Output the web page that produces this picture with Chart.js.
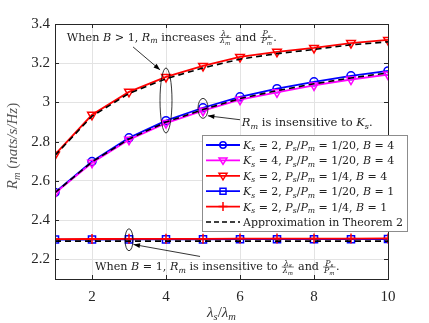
<!DOCTYPE html>
<html>
<head>
<meta charset="utf-8">
<script src="https://cdn.jsdelivr.net/npm/chart.js@4"></script>
<style>
html, body { margin: 0; padding: 0; background: #fff; }
#wrap { width: 429px; height: 323px; position: relative; }
</style>
</head>
<body>
<div id="wrap"><canvas id="rate_chart"></canvas></div>
<script>
var lambda_ratio = [1, 2, 3, 4, 5, 6, 7, 8, 9, 10];
var rate_ks2_p20_b4 = [2.541, 2.699, 2.820, 2.907, 2.973, 3.029, 3.070, 3.105, 3.136, 3.161];
var rate_ks4_p20_b4 = [2.538, 2.693, 2.810, 2.895, 2.958, 3.014, 3.052, 3.087, 3.117, 3.142];
var rate_ks2_p4_b4 = [2.734, 2.937, 3.054, 3.130, 3.186, 3.232, 3.258, 3.278, 3.303, 3.319];
var rate_ks2_p20_b1 = [2.301, 2.301, 2.302, 2.302, 2.302, 2.303, 2.303, 2.303, 2.303, 2.304];
var rate_ks2_p4_b1 = [2.303, 2.304, 2.305, 2.305, 2.305, 2.306, 2.306, 2.306, 2.306, 2.307];
var approx_p20_b4 = [2.540, 2.697, 2.814, 2.900, 2.964, 3.020, 3.060, 3.095, 3.125, 3.151];
var approx_p4_b4 = [2.730, 2.930, 3.046, 3.121, 3.176, 3.221, 3.249, 3.270, 3.294, 3.309];
var approx_b1 = [2.293, 2.293, 2.293, 2.293, 2.293, 2.293, 2.293, 2.293, 2.293, 2.293];
var x_ticks = [2, 4, 6, 8, 10];
var y_ticks = [2.2, 2.4, 2.6, 2.8, 3, 3.2, 3.4];

var SERIF = '"Liberation Serif", "DejaVu Serif", serif';
var WIDE_SERIF = '"DejaVu Serif", serif';

function pts(arr) {
    return lambda_ratio.map(function (x, i) { return { x: x, y: arr[i] }; });
}

// ---- rich text (italic / subscript / small fractions) ----
var rich_family = WIDE_SERIF;
function seg_font(s, size) {
    var sz = s.sub ? size * 0.7 : size;
    return (s.i ? 'italic ' : '') + sz + 'px ' + rich_family;
}
function rich_width(ctx, segs, size) {
    var w = 0;
    segs.forEach(function (s) { w += seg_width(ctx, s, size); });
    return w;
}
function seg_width(ctx, s, size) {
    if (s.frac) {
        return Math.max(rich_width(ctx, s.frac[0], size * 0.7), rich_width(ctx, s.frac[1], size * 0.7)) + 3;
    }
    ctx.font = seg_font(s, size);
    return ctx.measureText(s.t).width;
}
function draw_rich(ctx, segs, x, y, size) {
    ctx.textBaseline = 'alphabetic';
    ctx.textAlign = 'left';
    segs.forEach(function (s) {
        var w = seg_width(ctx, s, size);
        if (s.frac) {
            var fs = size * 0.7;
            var bar = y - size * 0.3;
            var wn = rich_width(ctx, s.frac[0], fs), wd = rich_width(ctx, s.frac[1], fs);
            draw_rich(ctx, s.frac[0], x + (w - wn) / 2, bar - 1.5, fs);
            draw_rich(ctx, s.frac[1], x + (w - wd) / 2, bar + fs * 0.75, fs);
            ctx.beginPath();
            ctx.moveTo(x + 0.5, bar); ctx.lineTo(x + w - 0.5, bar);
            ctx.lineWidth = 0.6; ctx.stroke();
        } else {
            ctx.font = seg_font(s, size);
            ctx.fillText(s.t, x, s.sub ? y + size * 0.22 : y);
        }
        x += w;
    });
}
function N(t) { return { t: t }; }
function I(t) { return { t: t, i: true }; }
function S(t) { return { t: t, i: true, sub: true }; }
var frac_lambda = { frac: [[I('λ'), S('s')], [I('λ'), S('m')]] };
var frac_power = { frac: [[I('P'), S('s')], [I('P'), S('m')]] };

function legend_label(ks, pr, b) {
    return [I('K'), S('s'), N(' = ' + ks + ', '), I('P'), S('s'), N('/'), I('P'), S('m'),
            N(' = ' + pr + ', '), I('B'), N(' = ' + b)];
}

function draw_marker(ctx, style, x, y, color) {
    ctx.save();
    ctx.strokeStyle = color;
    ctx.lineWidth = 1.5;
    ctx.beginPath();
    if (style == 'circle') ctx.arc(x, y, 3.2, 0, 2 * Math.PI);
    else if (style == 'tri') { ctx.moveTo(x - 4, y - 2.5); ctx.lineTo(x + 4, y - 2.5); ctx.lineTo(x, y + 4); ctx.closePath(); }
    else if (style == 'rect') ctx.rect(x - 3, y - 3, 6, 6);
    else if (style == 'cross') { ctx.moveTo(x - 4.5, y); ctx.lineTo(x + 4.5, y); ctx.moveTo(x, y - 4.5); ctx.lineTo(x, y + 4.5); }
    ctx.stroke();
    ctx.restore();
}

function arrow(ctx, x1, y1, x2, y2) {
    var a = Math.atan2(y2 - y1, x2 - x1);
    ctx.beginPath();
    ctx.moveTo(x1, y1); ctx.lineTo(x2, y2);
    ctx.lineWidth = 0.8; ctx.stroke();
    ctx.beginPath();
    ctx.moveTo(x2, y2);
    ctx.lineTo(x2 - 7 * Math.cos(a - 0.35), y2 - 7 * Math.sin(a - 0.35));
    ctx.lineTo(x2 - 7 * Math.cos(a + 0.35), y2 - 7 * Math.sin(a + 0.35));
    ctx.closePath(); ctx.fill();
}

var legend_rows = [
    { label: legend_label(2, '1/20', 4), color: 'blue', marker: 'circle' },
    { label: legend_label(4, '1/20', 4), color: 'magenta', marker: 'tri' },
    { label: legend_label(2, '1/4', 4), color: 'red', marker: 'tri' },
    { label: legend_label(2, '1/20', 1), color: 'blue', marker: 'rect' },
    { label: legend_label(2, '1/4', 1), color: 'red', marker: 'cross' },
    { label: [N('Approximation in Theorem 2')], color: 'black', marker: null, dash: true }
];

var extras = {
    id: 'extras',
    afterDatasetsDraw: function (chart) {
        var ctx = chart.ctx, a = chart.chartArea;
        var sx = chart.scales.x, sy = chart.scales.y;
        function px(v) { return sx.getPixelForValue(v); }
        function py(v) { return sy.getPixelForValue(v); }
        ctx.save();
        ctx.fillStyle = '#000'; ctx.strokeStyle = '#000';

        // ellipses
        [[4, 3.01, 6, 32.5], [5, 2.97, 5, 10], [3, 2.30, 4, 11]].forEach(function (e) {
            ctx.beginPath();
            ctx.ellipse(px(e[0]), py(e[1]), e[2], e[3], 0, 0, 2 * Math.PI);
            ctx.lineWidth = 0.8; ctx.stroke();
        });
        arrow(ctx, px(3.11), py(3.283), px(3.84), py(3.166));
        arrow(ctx, px(6.0), py(2.912), px(5.13), py(2.932));
        arrow(ctx, px(4.92), py(2.215), px(3.12), py(2.276));

        rich_family = WIDE_SERIF;
        ctx.fillStyle = '#222'; ctx.strokeStyle = '#222';
        draw_rich(ctx, [N('When '), I('B'), N(' > 1, '), I('R'), S('m'), N(' increases '), frac_lambda,
                        N(' and '), frac_power, N('.')], px(1.32), py(3.314), 11.2);
        draw_rich(ctx, [I('R'), S('m'), N(' is insensitive to '), I('K'), S('s'), N('.')], px(6.05), py(2.88), 11.5);
        draw_rich(ctx, [N('When '), I('B'), N(' = 1, '), I('R'), S('m'), N(' is insensitive to '), frac_lambda,
                        N(' and '), frac_power, N('.')], px(2.08), py(2.144), 11.2);

        // axes box + inward ticks
        ctx.strokeStyle = '#262626'; ctx.lineWidth = 1;
        ctx.strokeRect(a.left + 0.5, a.top + 0.5, a.right - a.left, a.bottom - a.top);
        ctx.beginPath();
        x_ticks.forEach(function (v) {
            var x = Math.round(px(v)) + 0.5;
            ctx.moveTo(x, a.bottom); ctx.lineTo(x, a.bottom - 4);
            ctx.moveTo(x, a.top); ctx.lineTo(x, a.top + 4);
        });
        y_ticks.forEach(function (v) {
            var y = Math.round(py(v)) + 0.5;
            ctx.moveTo(a.left, y); ctx.lineTo(a.left + 4, y);
            ctx.moveTo(a.right, y); ctx.lineTo(a.right - 4, y);
        });
        ctx.stroke();

        // axis titles
        rich_family = SERIF;
        ctx.fillStyle = '#555';
        var yt = [I('R'), S('m'), N(' ('), I('nats/s/Hz'), N(')')];
        ctx.save();
        ctx.translate(a.left - 38, 146);
        ctx.rotate(-Math.PI / 2);
        draw_rich(ctx, yt, -rich_width(ctx, yt, 15) / 2, 0, 15);
        ctx.restore();
        ctx.fillStyle = '#333';
        var xt = [I('λ'), S('s'), N('/'), I('λ'), S('m')];
        draw_rich(ctx, xt, (a.left + a.right) / 2 - rich_width(ctx, xt, 15) / 2, a.bottom + 38, 15);

        // legend
        rich_family = WIDE_SERIF;
        var lx = a.right - 186, ly = a.top + 111, lw = 205, lh = 96;
        ctx.fillStyle = '#fff';
        ctx.fillRect(lx, ly, lw, lh);
        ctx.strokeStyle = '#8c8c8c';
        ctx.strokeRect(lx + 0.5, ly + 0.5, lw, lh);
        legend_rows.forEach(function (r, k) {
            var y = ly + 10 + k * 15.4;
            ctx.save();
            ctx.strokeStyle = r.color; ctx.lineWidth = r.dash ? 1.6 : 1.8;
            ctx.setLineDash(r.dash ? [5, 3] : []);
            ctx.beginPath(); ctx.moveTo(lx + 4, y); ctx.lineTo(lx + 38, y); ctx.stroke();
            ctx.restore();
            if (r.marker) draw_marker(ctx, r.marker, lx + 21, y, r.color);
            ctx.fillStyle = '#222';
            draw_rich(ctx, r.label, lx + 41, y + 4, 11);
        });
        ctx.restore();
    }
};

function line_ds(arr, color, style, radius, rot, order) {
    return {
        data: pts(arr),
        borderColor: color,
        backgroundColor: color,
        borderWidth: 1.8,
        pointStyle: style,
        pointRadius: radius,
        pointRotation: rot,
        pointBorderWidth: 1.5,
        pointBorderColor: color,
        pointBackgroundColor: 'rgba(0,0,0,0)',
        tension: 0,
        order: order
    };
}
function dash_ds(arr) {
    return {
        data: pts(arr),
        borderColor: 'black',
        borderWidth: 1.6,
        borderDash: [6, 4],
        pointRadius: 0,
        tension: 0,
        order: 0
    };
}

var rate_chart = new Chart(document.getElementById('rate_chart'), {
    type: 'line',
    data: {
        datasets: [
            line_ds(rate_ks2_p20_b4, 'blue', 'circle', 4, 0, 3),
            line_ds(rate_ks4_p20_b4, 'magenta', 'triangle', 5, 180, 2),
            line_ds(rate_ks2_p4_b4, 'red', 'triangle', 5, 180, 1),
            line_ds(rate_ks2_p20_b1, 'blue', 'rect', 5, 0, 3),
            line_ds(rate_ks2_p4_b1, 'red', 'cross', 5, 0, 1),
            dash_ds(approx_p20_b4),
            dash_ds(approx_p4_b4),
            dash_ds(approx_b1)
        ]
    },
    options: {
        responsive: true,
        maintainAspectRatio: false,
        animation: false,
        layout: { padding: { top: 24, right: 41, left: 0, bottom: 0 } },
        scales: {
            x: {
                type: 'linear',
                min: 1,
                max: 10,
                afterBuildTicks: function (s) { s.ticks = x_ticks.map(function (v) { return { value: v }; }); },
                afterFit: function (s) { s.height = 44; },
                grid: { color: '#e3e3e3', drawTicks: false },
                border: { display: false },
                ticks: { padding: 9, color: '#262626', font: { family: SERIF, size: 15 }, maxRotation: 0 }
            },
            y: {
                min: 2.1,
                max: 3.4,
                afterBuildTicks: function (s) { s.ticks = y_ticks.map(function (v) { return { value: v }; }); },
                afterFit: function (s) { s.width = 55; },
                grid: { color: '#e3e3e3', drawTicks: false },
                border: { display: false },
                ticks: {
                    padding: 5, color: '#262626', font: { family: SERIF, size: 15 },
                    callback: function (v) { return String(Number(v.toFixed(1))); }
                }
            }
        },
        plugins: {
            legend: { display: false },
            tooltip: { enabled: false }
        }
    },
    plugins: [extras]
});
</script>
</body>
</html>
